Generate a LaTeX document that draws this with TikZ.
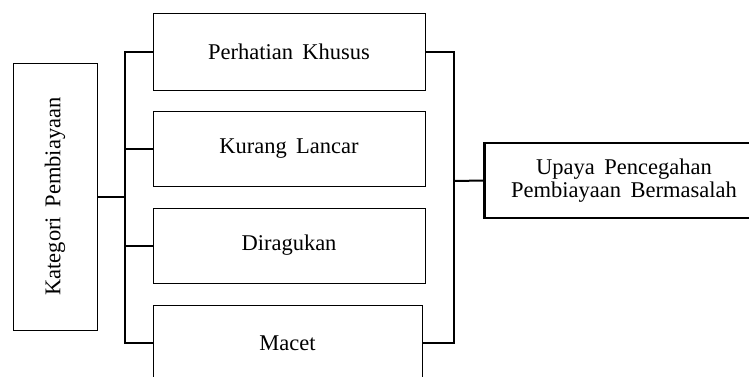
\documentclass[tikz,border=0pt]{standalone}
\usepackage{fontspec}
\setmainfont{Liberation Serif}
\usepackage{tikz}

\tikzset{
    kotak/.style={draw, line width=1pt, inner sep=0pt, align=center},
    bus/.style={line width=2pt},
}

\begin{document}
\begin{tikzpicture}[x=1pt, y=-1pt]
    \useasboundingbox (0,0) rectangle (749,376);
    \clip (0,0) rectangle (749,376);
    \fontsize{22.5}{25}\selectfont

    % Kategori (rotated)
    \node[kotak, minimum width=84, minimum height=267] (kategori) at (55,196.5) {};
    \node[rotate=90] (kategoritext) at (kategori.center) {Kategori\, Pembiayaan};

    % the four categories
    \node[kotak, minimum width=272, minimum height=77] (perhatian) at (289,51.5) {Perhatian\, Khusus};
    \node[kotak, minimum width=272, minimum height=75] (kurang) at (289,148.5) {Kurang\, Lancar};
    \node[kotak, minimum width=272, minimum height=75] (diragukan) at (289,245.5) {Diragukan};
    \node[kotak, minimum width=269, minimum height=76] (macet) at (287.5,343) {Macet};

    % Upaya (double left border)
    \node[kotak, line width=1.4pt, minimum width=280, minimum height=75] (upaya) at (624,180.5)
        {Upaya\, Pencegahan\\[-2pt]Pembiayaan\, Bermasalah};
    \draw[line width=1pt] ([xshift=2.5]upaya.north west) -- ([xshift=2.5]upaya.south west);

    % buses
    \coordinate (busl) at (125,0);
    \coordinate (busr) at (454,181);

    \draw[bus] (perhatian.west) -- (perhatian.west -| busl) -- (macet.west -| busl) -- (macet.west);
    \foreach \n in {kurang, diragukan} {
        \draw[bus] (\n.west) -- (\n.west -| busl);
    }
    \draw[bus] (kategori.east) -- (kategori.east -| busl);

    \draw[bus] (perhatian.east) -- (perhatian.east -| busr) -- (macet.east -| busr) -- (macet.east);
    \draw[bus] (busr) -- (upaya.west);
\end{tikzpicture}
\end{document}
